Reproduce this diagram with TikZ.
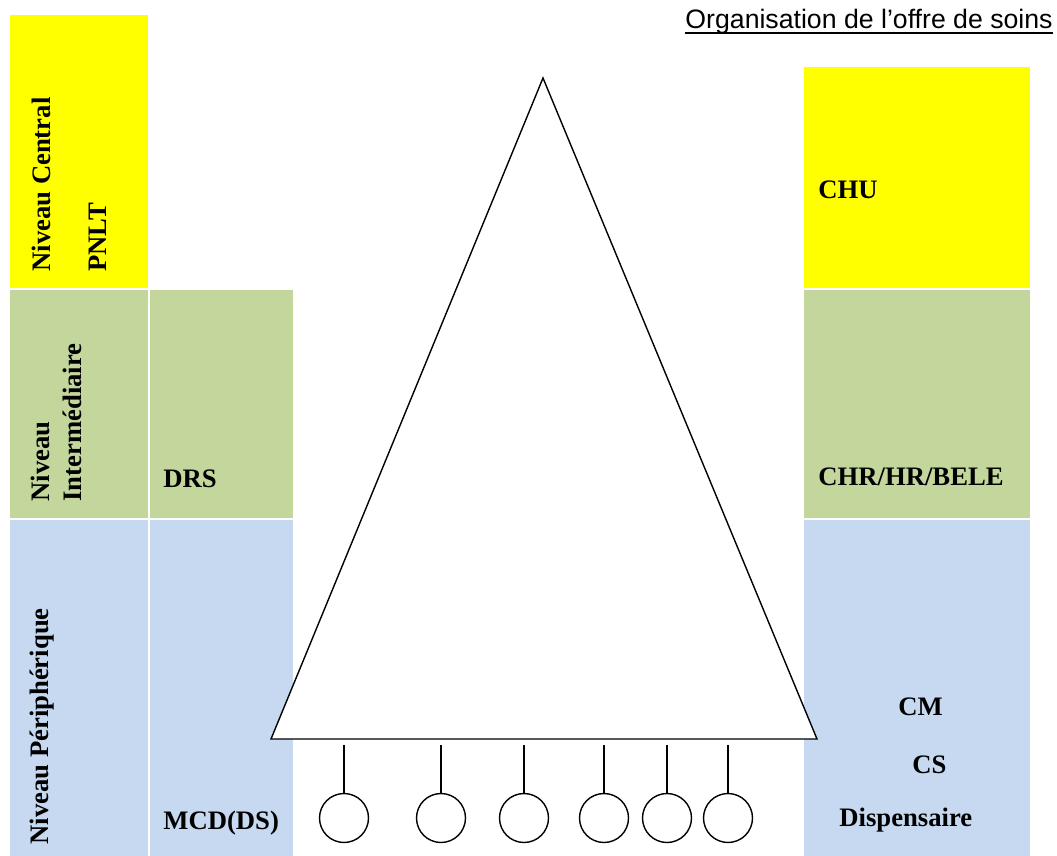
\documentclass[tikz,border=0pt]{standalone}
\usepackage{fontspec}
\setmainfont{Liberation Serif}
\newfontfamily\titlefont{Liberation Sans}
\usepackage{tikz}
\usetikzlibrary{positioning}
\definecolor{niv1}{HTML}{FFFF00}
\definecolor{niv2}{HTML}{C3D69B}
\definecolor{niv3}{HTML}{C6D9F1}

\begin{document}
\begin{tikzpicture}[x=0.75pt,y=-0.75pt,
lbl/.style={inner sep=0,font=\bfseries\fontsize{20}{24}\selectfont},
vlbl/.style={lbl,rotate=90,anchor=west},
hlbl/.style={lbl,anchor=base west},
post/.style={circle,draw,line width=1.05pt,fill=white,inner sep=0,minimum size=36.75pt},
wire/.style={line width=1.05pt},
semithick]

\useasboundingbox (0,0) rectangle (1057,856);

% colonnes de gauche
\fill[niv1] (10,15) rectangle (148,288);
\fill[niv2] (10,290) rectangle (148,518);
\fill[niv2] (150,290) rectangle (293,518);
\fill[niv3] (10,520) rectangle (148,856);
\fill[niv3] (150,520) rectangle (293,856);

% colonne de droite
\fill[niv1] (804,67) rectangle (1030,288);
\fill[niv2] (804,290) rectangle (1030,518);
\fill[niv3] (804,520) rectangle (1030,856);

% pyramide
\draw[wire,fill=white,line join=miter] (543,78) -- (271,739) -- (817,739) -- cycle;

\foreach \x [count=\i] in {344,441,524,604,667,728}{
  \node[post] (c\i) at (\x,818) {};
  \coordinate (t\i) at (\x,745);
  \draw[wire] (t\i) -- (c\i.north);
}

\node[lbl,font=\titlefont\fontsize{20}{24}\selectfont,anchor=base east] (titre) at (1053,29) {Organisation de l’offre de soins};
\draw[line width=1.1pt] ([yshift=-3pt]titre.base west) -- ([yshift=-3pt]titre.base east);

\node[vlbl] (central) at (41,272) {Niveau Central};
\node[vlbl] (pnlt) at (98,272) {PNLT};
\node[vlbl,align=left] (inter) at (56,502) {Niveau\\Intermédiaire};
\node[vlbl] (periph) at (42,845) {Niveau Périphérique};

\node[hlbl] (drs) at (163,487) {DRS};
\node[hlbl] (mcd) at (163,829) {MCD(DS)};

\node[hlbl] (chu) at (818,198) {CHU};
\node[hlbl] (chr) at (818,485) {CHR/HR/BELE};
\node[hlbl] (cm) at (898,715) {CM};
\node[hlbl] (cs) at (912,773) {CS};
\node[hlbl] (disp) at (839,826) {Dispensaire};
\end{tikzpicture}
\end{document}
